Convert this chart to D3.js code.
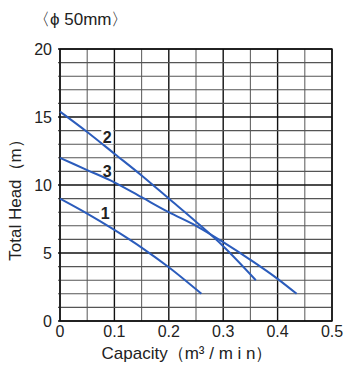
<!DOCTYPE html>
<html>
<head>
<meta charset="utf-8">
<script src="https://cdn.jsdelivr.net/npm/d3@7"></script>
<style>
  body { margin: 0; background: #fff; }
  text { font-family: "Liberation Sans", Arial, sans-serif; fill: #222; }
</style>
</head>
<body>
<div id="chart"></div>
<script>
// capacity (m3/min) vs head (m)
const curve1 = [[0, 9], [0.05, 7.9], [0.1, 6.7], [0.15, 5.4], [0.2, 3.95], [0.26, 2]];
const curve2 = [[0, 15.4], [0.05, 13.9], [0.1, 12.3], [0.15, 10.7], [0.2, 9.0], [0.25, 7.3], [0.3, 5.5], [0.36, 3]];
const curve3 = [[0, 12], [0.05, 11.1], [0.1, 10.2], [0.15, 9.1], [0.2, 8.0], [0.25, 7.0], [0.3, 5.8], [0.35, 4.5], [0.4, 3.1], [0.435, 2]];
const curveNames = ['1', '2', '3'];
const labelPos = [[0.083, 7.9], [0.087, 13.5], [0.087, 11.0]];
const xTicks = [0, 0.1, 0.2, 0.3, 0.4, 0.5];
const yTicks = [0, 5, 10, 15, 20];

const width = 345, height = 373;
const margin = { top: 49, right: 13, bottom: 52, left: 60 };

const svg = d3.select('#chart').append('svg')
  .attr('width', width)
  .attr('height', height);

const x = d3.scaleLinear().domain([0, 0.5]).range([margin.left, width - margin.right]);
const y = d3.scaleLinear().domain([0, 20]).range([height - margin.bottom, margin.top]);

const grid = svg.append('g');

// vertical grid every 0.05
d3.range(0, 11).forEach(i => {
  const v = i * 0.05;
  grid.append('line')
    .attr('x1', x(v)).attr('x2', x(v))
    .attr('y1', y(0)).attr('y2', y(20))
    .attr('stroke', i % 2 === 0 ? '#111' : '#666')
    .attr('stroke-width', i % 2 === 0 ? 1.4 : 1.1);
});

// horizontal grid every 1 m
d3.range(0, 21).forEach(i => {
  grid.append('line')
    .attr('x1', x(0) - 2).attr('x2', x(0.5))
    .attr('y1', y(i)).attr('y2', y(i))
    .attr('stroke', i % 5 === 0 ? '#111' : '#555')
    .attr('stroke-width', i % 5 === 0 ? 1.6 : 1.1);
});

grid.append('rect')
  .attr('x', x(0)).attr('y', y(20))
  .attr('width', x(0.5) - x(0)).attr('height', y(0) - y(20))
  .attr('fill', 'none').attr('stroke', '#111').attr('stroke-width', 1.4);

// white boxes behind the curve numbers
const curves = [curve1, curve2, curve3];
labelPos.forEach(p => {
  svg.append('rect')
    .attr('x', x(p[0]) - 6).attr('y', y(p[1]) - 9)
    .attr('width', 12).attr('height', 16)
    .attr('fill', '#fff');
});

const line = d3.line().x(d => x(d[0])).y(d => y(d[1])).curve(d3.curveMonotoneX);

svg.selectAll('path.curve')
  .data(curves)
  .enter()
  .append('path')
  .attr('class', 'curve')
  .attr('d', line)
  .attr('fill', 'none')
  .attr('stroke', '#2b5cbc')
  .attr('stroke-width', 2);

labelPos.forEach((p, i) => {
  svg.append('text')
    .attr('x', x(p[0])).attr('y', y(p[1]) + 5.5)
    .attr('text-anchor', 'middle')
    .style('font-size', '16px')
    .style('font-weight', 'bold')
    .text(curveNames[i]);
});

// tick labels
svg.selectAll('text.ytick')
  .data(yTicks)
  .enter()
  .append('text')
  .attr('class', 'ytick')
  .attr('x', 52)
  .attr('y', d => y(d) + 6)
  .attr('text-anchor', 'end')
  .style('font-size', '16px')
  .text(d => d);

svg.selectAll('text.xtick')
  .data(xTicks)
  .enter()
  .append('text')
  .attr('class', 'xtick')
  .attr('x', d => x(d))
  .attr('y', 337)
  .attr('text-anchor', 'middle')
  .style('font-size', '16px')
  .text(d => d === 0 ? '0' : d3.format('.1f')(d));

// titles
svg.append('text')
  .attr('x', 33).attr('y', 25)
  .style('font-size', '17px')
  .text('〈ϕ 50mm〉');

svg.append('text')
  .attr('x', 187).attr('y', 359)
  .attr('text-anchor', 'middle')
  .style('font-size', '17px')
  .text('Capacity（m³ / m i n）');

svg.append('text')
  .attr('transform', 'translate(21,196) rotate(-90)')
  .attr('text-anchor', 'middle')
  .style('font-size', '17px')
  .text('Total Head（m）');
</script>
</body>
</html>
